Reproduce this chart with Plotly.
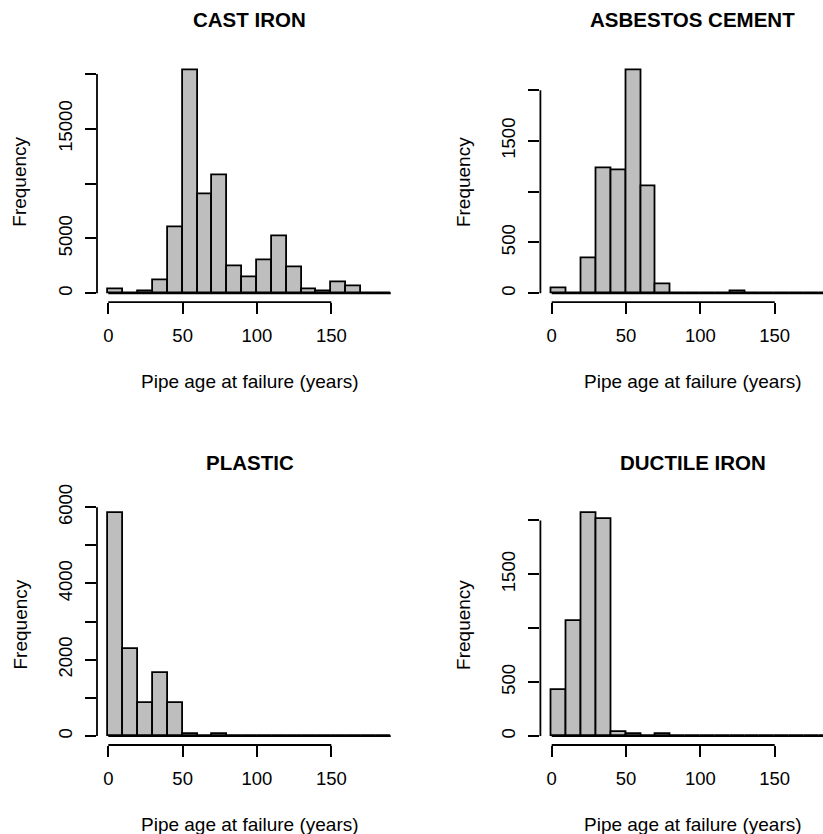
import plotly.graph_objects as go

W, H = 823, 834

# ---- data ----
breaks = list(range(0, 200, 10))          # bin edges 0..190, width 10
cast_iron = [365, 0, 150, 1215, 6050, 20350, 9050, 10750, 2490, 1490,
             3040, 5230, 2370, 365, 180, 1030, 640, 0, 0]
asbestos_cement = [53, 0, 345, 1235, 1212, 2197, 1055, 89, 0, 0,
                   0, 0, 20, 0, 0, 0, 0, 0, 0]
plastic = [5850, 2275, 875, 1660, 875, 52, 0, 52, 0, 0,
           0, 0, 0, 0, 0, 0, 0, 0, 0]
ductile_iron = [427, 1063, 2070, 2018, 37, 18, 0, 18, 0, 0,
                0, 0, 0, 0, 0, 0, 0, 0, 0]

titles = ["CAST IRON", "ASBESTOS CEMENT", "PLASTIC", "DUCTILE IRON"]
series = [cast_iron, asbestos_cement, plastic, ductile_iron]
x_ticks = [0, 50, 100, 150]
y_tickvals = [[0, 5000, 10000, 15000, 20000],
              [0, 500, 1000, 1500, 2000],
              [0, 1000, 2000, 3000, 4000, 5000, 6000],
              [0, 500, 1000, 1500, 2000]]
y_ticktext = [["0", "5000", "", "15000", ""],
              ["0", "500", "", "1500", ""],
              ["0", "", "2000", "", "4000", "", "6000"],
              ["0", "500", "", "1500", ""]]
x_label = "Pipe age at failure (years)"
y_label = "Frequency"

# ---- layout geometry (pixels) ----
panel_w = 305.1
lefts = [97.0, 540.4, 97.0, 540.4]
tops = [61.2, 61.2, 504.0, 504.0]
bottoms = [302.2, 302.2, 745.0, 745.0]

FONT = "Liberation Sans, Arial, sans-serif"
LW = 1.8

fig = go.Figure()
annotations = []
shapes = []
layout = {}

for i in range(4):
    counts = series[i]
    n = i + 1
    xa = "x" if n == 1 else f"x{n}"
    ya = "y" if n == 1 else f"y{n}"
    centers = [(breaks[k] + breaks[k + 1]) / 2 for k in range(len(counts))]
    widths = [breaks[k + 1] - breaks[k] for k in range(len(counts))]

    # baseline (zero-height bins) drawn from the breaks
    fig.add_trace(go.Scatter(x=[breaks[0], breaks[-1]], y=[0, 0], mode="lines",
                             line=dict(color="black", width=LW),
                             xaxis=xa, yaxis=ya, showlegend=False,
                             hoverinfo="skip"))
    fig.add_trace(go.Bar(x=centers, y=counts, width=widths,
                         marker=dict(color="#BEBEBE",
                                     line=dict(color="black", width=LW)),
                         xaxis=xa, yaxis=ya, showlegend=False))

    # ranges like R (4% extension)
    b0, bN = breaks[0], breaks[-1]
    xlo = b0 - 0.04 * (bN - b0)
    xhi = bN + 0.04 * (bN - b0)
    left_px = lefts[i]
    right_px = left_px + panel_w
    if right_px > W:
        xhi = xlo + (xhi - xlo) * (W - left_px) / panel_w
        right_px = W
    ymax = max(counts)
    ylo, yhi = -0.04 * ymax, 1.04 * ymax

    xkey = "xaxis" if n == 1 else f"xaxis{n}"
    ykey = "yaxis" if n == 1 else f"yaxis{n}"
    layout[xkey] = dict(
        domain=[left_px / W, right_px / W], range=[xlo, xhi],
        anchor=ya, tickmode="array", tickvals=x_ticks,
        ticktext=[str(v) for v in x_ticks],
        ticks="outside", ticklen=11, tickwidth=LW, tickcolor="black",
        showline=False, showgrid=False, zeroline=False, automargin=False,
        tickfont=dict(family=FONT, size=18.5, color="black"),
        ticklabelstandoff=6, fixedrange=True)
    layout[ykey] = dict(
        domain=[1 - bottoms[i] / H, 1 - tops[i] / H], range=[ylo, yhi],
        anchor=xa, tickmode="array", tickvals=y_tickvals[i],
        ticktext=y_ticktext[i], tickangle=-90,
        ticks="outside", ticklen=11, tickwidth=LW, tickcolor="black",
        showline=False, showgrid=False, zeroline=False, automargin=False,
        tickfont=dict(family=FONT, size=18.5, color="black"),
        ticklabelstandoff=6, fixedrange=True)

    # R-style axis lines spanning first..last tick
    shapes.append(dict(type="line", xref=xa, yref=f"{ya} domain",
                       x0=x_ticks[0], x1=x_ticks[-1], y0=0, y1=0,
                       line=dict(color="black", width=LW)))
    shapes.append(dict(type="line", xref=f"{xa} domain", yref=ya,
                       x0=0, x1=0, y0=y_tickvals[i][0], y1=y_tickvals[i][-1],
                       line=dict(color="black", width=LW)))

    cx = (left_px + panel_w / 2) / W
    cy_plot = 1 - (tops[i] + bottoms[i]) / 2 / H
    annotations.append(dict(text=f"<b>{titles[i]}</b>", x=cx, y=1 - (tops[i] - 41.5) / H,
                            xref="paper", yref="paper", showarrow=False,
                            xanchor="center", yanchor="middle",
                            font=dict(family=FONT, size=20.5, color="black")))
    annotations.append(dict(text=x_label, x=cx, y=1 - (bottoms[i] + 79.5) / H,
                            xref="paper", yref="paper", showarrow=False,
                            xanchor="center", yanchor="middle",
                            font=dict(family=FONT, size=19, color="black")))
    annotations.append(dict(text=y_label, x=(left_px - 77) / W, y=cy_plot,
                            xref="paper", yref="paper", showarrow=False,
                            textangle=-90, xanchor="center", yanchor="middle",
                            font=dict(family=FONT, size=19, color="black")))

fig.update_layout(
    width=W, height=H, template="none",
    margin=dict(l=0, r=0, t=0, b=0, pad=0),
    paper_bgcolor="white", plot_bgcolor="white",
    bargap=0, showlegend=False,
    annotations=annotations, shapes=shapes,
    font=dict(family=FONT, color="black"),
    **layout)

fig.write_html("out.html")
